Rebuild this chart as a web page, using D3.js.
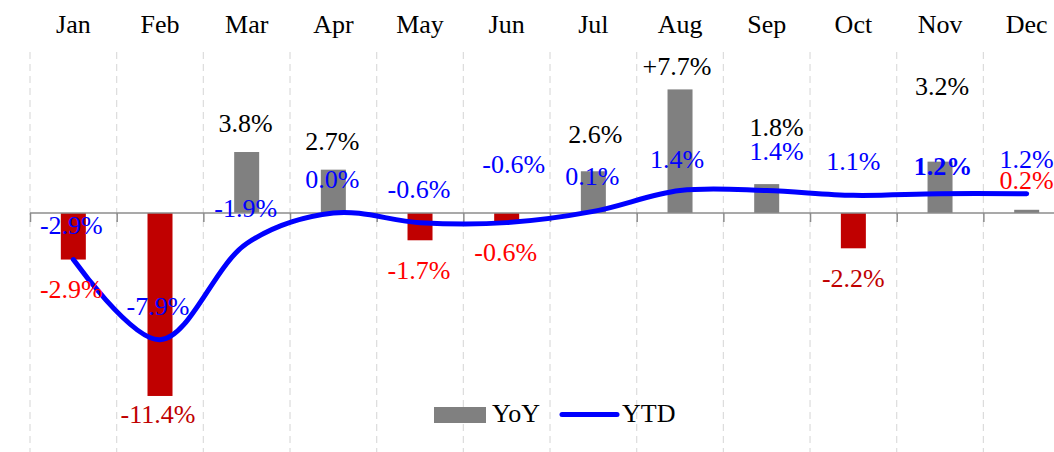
<!DOCTYPE html>
<html>
<head>
<meta charset="utf-8">
<script src="https://cdn.jsdelivr.net/npm/d3@7"></script>
<style>
  html, body { margin: 0; padding: 0; background: #fff; overflow: hidden; }
  svg { display: block; font-family: "Liberation Serif", "DejaVu Serif", serif; }
</style>
</head>
<body>
<div id="chart"></div>
<script>
// ── data ────────────────────────────────────────────────
const months = ["Jan","Feb","Mar","Apr","May","Jun","Jul","Aug","Sep","Oct","Nov","Dec"];
const yoy    = [-2.9, -11.4, 3.8, 2.7, -1.7, -0.6, 2.6, 7.7, 1.8, -2.2, 3.2, 0.2];
const ytd    = [-2.9, -7.9, -1.9, 0.0, -0.6, -0.6, 0.1, 1.4, 1.4, 1.1, 1.2, 1.2];
const yoyText = ["-2.9%","-11.4%","3.8%","2.7%","-1.7%","-0.6%","2.6%","+7.7%","1.8%","-2.2%","3.2%","0.2%"];
const ytdText = ["-2.9%","-7.9%","-1.9%","0.0%","-0.6%","-0.6%","0.1%","1.4%","1.4%","1.1%","1.2%","1.2%"];

// ── label layout (pixel nudges, relative to the mark end) ─
const yoyDy = [38, 27, -20, -20, 39, 38, -28, -14, -48, 39, -67, -21];
const yoyDx = [-2, -2, -1, -1, -1, -1, 2, -3, 10, 0, 2, 0];
const ytdDy = [-26, -25, -26, -25, -25, -50, -26, -23, -31, -25, -19, -26];
const ytdDx = [-2, -2, -1, -1, -1, 7, -1, -3, 10, 0, 3, 0];
const yoyColor = ["#ff0000","#c00000","#000","#000","#ff0000","#ff0000","#000","#000","#000","#c00000","#000","#ff0000"];

const W = 1054, H = 452;
const left = 30, step = 86.67;

const svg = d3.select("#chart").append("svg")
    .attr("width", W).attr("height", H);

const x = d3.scaleBand().domain(months).range([left, left + step * 12]).padding(0);
const xi = d3.scaleLinear().domain([0, 12]).range([left, left + step * 12]);
const y = d3.scaleLinear().domain([-12, 8]).range([405.6, 84.6]);
const cx = m => x(m) + x.bandwidth() / 2;
const barW = 25;

// Dashed vertical gridlines at band edges
svg.append("g").selectAll("line").data(d3.range(13)).join("line")
    .attr("x1", d => xi(d)).attr("x2", d => xi(d))
    .attr("y1", 52).attr("y2", H)
    .attr("stroke", "#dcdcdc").attr("stroke-width", 1.2)
    .attr("stroke-dasharray", "7,5");

// Month labels on top
const monthAxis = svg.append("g").attr("transform", "translate(0,33)")
    .call(d3.axisTop(x).tickSize(0).tickPadding(0));
monthAxis.select(".domain").remove();
monthAxis.attr("font-family", null);
monthAxis.selectAll("text").style("font-size", "26px").style("fill", "#000")
    .style("font-family", "'Liberation Serif', serif").attr("dy", 0);

// Bars
svg.append("g").selectAll("rect").data(months).join("rect")
    .attr("x", (m) => cx(m) - barW / 2)
    .attr("width", barW)
    .attr("y", (m, i) => y(Math.max(0, yoy[i])))
    .attr("height", (m, i) => Math.abs(y(yoy[i]) - y(0)))
    .attr("fill", (m, i) => yoy[i] < 0 ? "#c00000" : "#808080");

// Zero axis with ticks at band edges
const ax = svg.append("g").attr("transform", `translate(0,${y(0)})`)
    .call(d3.axisBottom(xi).tickValues(d3.range(13)).tickSize(9).tickSizeOuter(0).tickFormat(""));
ax.select(".domain").attr("stroke", "#8c8c8c").attr("stroke-width", 1.5)
    .attr("d", `M${left},0H${W + 20}`);
ax.selectAll(".tick line").attr("stroke", "#8c8c8c").attr("stroke-width", 1.5);

// YTD line
const line = d3.line()
    .x((d, i) => cx(months[i]))
    .y(d => y(d))
    .curve(d3.curveCatmullRom.alpha(0.5));
svg.append("path").datum(ytd)
    .attr("fill", "none").attr("stroke", "#0000ff")
    .attr("stroke-width", 5).attr("stroke-linecap", "round")
    .attr("d", line);

// YoY labels
svg.append("g").selectAll("text").data(months).join("text")
    .attr("x", (m, i) => cx(m) + yoyDx[i])
    .attr("y", (m, i) => y(yoy[i]) + yoyDy[i])
    .attr("text-anchor", "middle")
    .style("font-size", "26px")
    .style("fill", (m, i) => yoyColor[i])
    .text((m, i) => yoyText[i]);

// YTD labels
svg.append("g").selectAll("text").data(months).join("text")
    .attr("x", (m, i) => cx(m) + ytdDx[i])
    .attr("y", (m, i) => y(ytd[i]) + ytdDy[i])
    .attr("text-anchor", "middle")
    .style("font-size", "26px")
    .style("font-weight", (m) => m === "Nov" ? "bold" : "normal")
    .style("fill", "#0000ff")
    .text((m, i) => ytdText[i]);

// Legend
const lg = svg.append("g").attr("transform", "translate(434,407)");
lg.append("rect").attr("x", 0).attr("y", 0).attr("width", 52).attr("height", 16).attr("fill", "#808080");
lg.append("text").attr("x", 58).attr("y", 15).style("font-size", "26px").text("YoY");
lg.append("line").attr("x1", 128).attr("x2", 183).attr("y1", 7.5).attr("y2", 7.5)
    .attr("stroke", "#0000ff").attr("stroke-width", 5).attr("stroke-linecap", "round");
lg.append("text").attr("x", 188).attr("y", 15).style("font-size", "26px").text("YTD");
</script>
</body>
</html>
